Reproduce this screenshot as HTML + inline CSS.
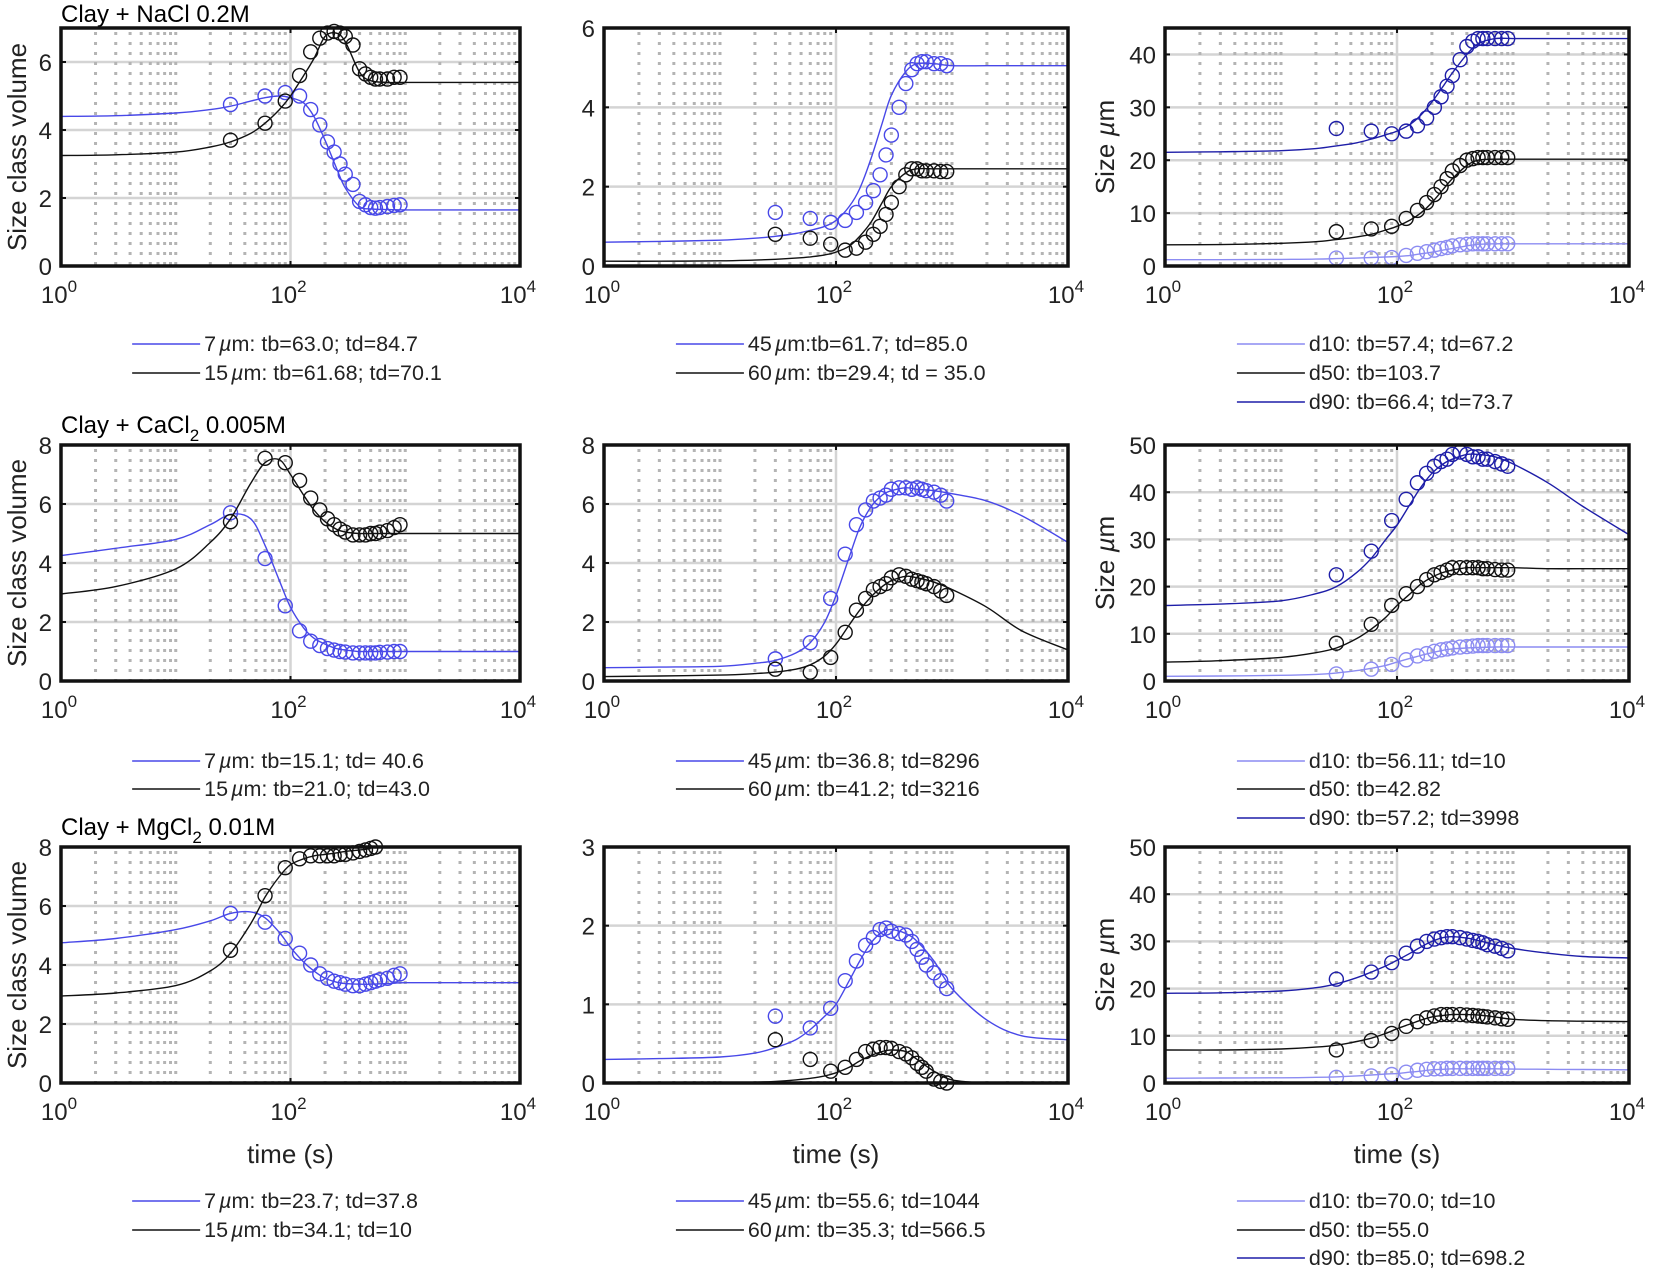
<!DOCTYPE html>
<html><head><meta charset="utf-8"><title>Size class fits</title>
<style>
html,body{margin:0;padding:0;background:#fff;}
svg{display:block;font-family:"Liberation Sans",Arial,sans-serif;}
</style></head>
<body>
<svg id="fig" width="1654" height="1274" viewBox="0 0 1654 1274" xmlns="http://www.w3.org/2000/svg">
<rect width="1654" height="1274" fill="#fff"/>
<text x="61" y="22" font-size="24">Clay + NaCl 0.2M</text>
<text x="61" y="433" font-size="24">Clay + CaCl<tspan dy="8" font-size="17">2</tspan><tspan dy="-8"> 0.005M</tspan></text>
<text x="61" y="835" font-size="24">Clay + MgCl<tspan dy="8" font-size="17">2</tspan><tspan dy="-8"> 0.01M</tspan></text>
<g id="plots"></g>
</svg>
<script>
// time grids (s)
const CT=[1,3,10,20,30,45,60,80,100,130,160,200,250,300,400,500,700,1000,2000,4000,10000];
const MT=[30,60,90,120,150,180,210,240,270,300,350,400,450,500,550,600,700,800,900];
// Panel 1 NaCl
const p1_7_fit=[4.4,4.42,4.5,4.6,4.7,4.85,4.95,5.0,4.95,4.8,4.4,3.7,2.9,2.3,1.75,1.68,1.66,1.65,1.65,1.65,1.65];
const p1_15_fit=[3.25,3.27,3.35,3.5,3.65,3.9,4.2,4.6,5.0,5.6,6.1,6.75,6.85,6.6,5.7,5.45,5.4,5.4,5.4,5.4,5.4];
const p1_7_obs=[4.75,5.0,5.1,5.0,4.6,4.15,3.65,3.35,3.0,2.7,2.4,1.9,1.8,1.72,1.7,1.72,1.75,1.78,1.8];
const p1_15_obs=[3.7,4.2,4.85,5.6,6.3,6.7,6.85,6.9,6.85,6.75,6.5,5.8,5.65,5.55,5.5,5.5,5.5,5.55,5.55];
// Panel 2
const p2_45_fit=[0.6,0.62,0.65,0.7,0.75,0.82,0.9,1.0,1.15,1.5,1.95,2.7,3.6,4.3,4.9,5.1,5.1,5.05,5.05,5.05,5.05];
const p2_60_fit=[0.12,0.12,0.13,0.15,0.17,0.2,0.23,0.28,0.35,0.5,0.75,1.1,1.6,2.0,2.35,2.45,2.45,2.45,2.45,2.45,2.45];
const p2_45_obs=[1.35,1.2,1.1,1.15,1.35,1.6,1.9,2.3,2.8,3.3,4.0,4.6,4.95,5.1,5.15,5.15,5.1,5.1,5.05];
const p2_60_obs=[0.8,0.7,0.55,0.4,0.45,0.6,0.8,1.0,1.3,1.6,2.0,2.3,2.45,2.45,2.4,2.4,2.4,2.38,2.38];
// Panel 3
const p3_d10_fit=[1.2,1.2,1.25,1.3,1.4,1.5,1.6,1.7,1.8,2.0,2.3,2.6,3.0,3.3,3.8,4.1,4.2,4.2,4.2,4.2,4.2];
const p3_d50_fit=[4,4.05,4.3,4.6,5,5.5,6,6.8,7.5,8.7,10,12,14.5,16.5,19,20,20.2,20.2,20.2,20.2,20.2];
const p3_d90_fit=[21.5,21.6,21.8,22.2,22.7,23.3,24,24.8,25.5,26.8,28.5,31,34,36.5,40,42,43,43,43,43,43];
const p3_d10_obs=[1.5,1.5,1.6,2,2.4,2.7,3.0,3.3,3.5,3.8,4.0,4.1,4.2,4.2,4.2,4.2,4.2,4.2,4.2];
const p3_d50_obs=[6.5,7,7.5,9,10.5,12,13.5,15,16.5,18,19,20,20.3,20.5,20.5,20.5,20.5,20.5,20.5];
const p3_d90_obs=[26,25.5,25,25.5,26.5,28,30,32,34,36,39,41.5,42.5,43,43,43,43,43,43];
// Panel 4 CaCl2
const p4_7_fit=[4.25,4.5,4.8,5.3,5.65,5.5,4.6,3.4,2.5,1.8,1.45,1.25,1.1,1.05,1.0,1.0,1.0,1.0,1.0,1.0,1.0];
const p4_15_fit=[2.95,3.2,3.8,4.7,5.5,6.7,7.4,7.5,7.0,6.3,5.8,5.4,5.15,5.05,5.0,5.0,5.0,5.0,5.0,5.0,5.0];
const p4_7_obs=[5.7,4.15,2.55,1.7,1.35,1.2,1.1,1.05,1.0,0.98,0.95,0.95,0.95,0.95,0.95,0.97,0.98,1.0,1.0];
const p4_15_obs=[5.4,7.55,7.4,6.8,6.2,5.8,5.5,5.3,5.15,5.05,4.95,4.95,4.95,5.0,5.0,5.05,5.1,5.2,5.3];
// Panel 5
const p5_45_fit=[0.45,0.47,0.5,0.6,0.7,0.95,1.3,2.0,2.9,4.2,5.2,5.9,6.3,6.45,6.55,6.5,6.45,6.35,6.1,5.6,4.7];
const p5_60_fit=[0.15,0.17,0.2,0.25,0.3,0.4,0.55,0.85,1.25,1.9,2.4,2.85,3.2,3.4,3.55,3.5,3.35,3.1,2.5,1.7,1.05];
const p5_45_obs=[0.75,1.3,2.8,4.3,5.3,5.8,6.1,6.2,6.3,6.5,6.55,6.55,6.5,6.55,6.5,6.45,6.4,6.3,6.1];
const p5_60_obs=[0.4,0.3,0.8,1.65,2.4,2.8,3.1,3.2,3.3,3.5,3.6,3.55,3.45,3.4,3.35,3.3,3.2,3.05,2.9];
// Panel 6
const p6_d10_fit=[1,1.05,1.2,1.4,1.7,2.2,2.7,3.3,4,4.8,5.4,6,6.5,6.8,7,7.1,7.2,7.2,7.2,7.2,7.2];
const p6_d50_fit=[4,4.3,5,6,7,9,11,13.5,16,18.5,20.5,22,23,23.5,24,24,24,24,23.8,23.8,23.8];
const p6_d90_fit=[16,16.3,17,18.5,20,23,26,30,33,37.5,41,44,46,47,48,48,47.5,46,42,37,31];
const p6_d10_obs=[1.5,2.5,3.5,4.5,5.3,5.8,6.3,6.6,6.8,7,7.2,7.3,7.4,7.5,7.5,7.5,7.5,7.5,7.5];
const p6_d50_obs=[8,12,16,18.5,20,21.5,22.5,23,23.5,24,24,24,24,24,23.8,23.8,23.6,23.5,23.5];
const p6_d90_obs=[22.5,27.5,34,38.5,42,44,45.5,46.5,47,48,48.5,48,47.5,47.5,47,47,46.5,46,45.5];
// Panel 7 MgCl2
const p7_7_fit=[4.75,4.9,5.2,5.5,5.75,5.8,5.6,5.1,4.6,4.1,3.8,3.55,3.42,3.37,3.35,3.35,3.37,3.4,3.4,3.4,3.4];
const p7_15_fit=[2.95,3.05,3.3,3.8,4.4,5.4,6.3,7.0,7.4,7.6,7.7,7.75,7.8,7.85,7.9,7.95,null,null,null,null,null];
const p7_7_obs=[5.75,5.45,4.9,4.4,4.0,3.7,3.55,3.45,3.4,3.35,3.3,3.3,3.35,3.4,3.45,3.5,3.55,3.65,3.7];
const p7_15_obs=[4.5,6.35,7.3,7.6,7.7,7.7,7.7,7.7,7.75,7.75,7.8,7.85,7.9,7.95,8.0,null,null,null,null];
// Panel 8
const p8_45_fit=[0.3,0.31,0.33,0.38,0.45,0.55,0.68,0.85,1.0,1.3,1.55,1.78,1.92,1.95,1.9,1.8,1.55,1.2,0.8,0.6,0.55];
const p8_60_fit=[0,0,0.005,0.01,0.02,0.04,0.06,0.09,0.13,0.2,0.28,0.35,0.4,0.42,0.4,0.3,0.15,0.04,0.0,0.0,0.0];
const p8_45_obs=[0.85,0.7,0.95,1.3,1.55,1.75,1.85,1.95,1.97,1.93,1.9,1.88,1.8,1.7,1.6,1.5,1.4,1.3,1.2];
const p8_60_obs=[0.55,0.3,0.15,0.2,0.3,0.4,0.43,0.45,0.45,0.44,0.4,0.37,0.32,0.25,0.2,0.15,0.05,0.02,0.0];
// Panel 9
const p9_d10_fit=[1,1.05,1.1,1.2,1.3,1.5,1.7,1.9,2,2.3,2.5,2.8,2.9,3,3,3,3,2.95,2.9,2.85,2.8];
const p9_d50_fit=[7,7,7.2,7.6,8,8.8,9.5,10.5,11.5,12.5,13.3,14,14.3,14.5,14.5,14.4,14,13.5,13.2,13.1,13];
const p9_d90_fit=[19,19.1,19.5,20.2,21,22.3,23.5,24.8,26,27.5,28.8,30,30.8,31,30.7,30.2,29.3,28.5,27.5,26.8,26.5];
const p9_d10_obs=[1.2,1.5,1.8,2.3,2.7,2.9,3,3,3.1,3.1,3.1,3.1,3.1,3.1,3.1,3.1,3.1,3.1,3.1];
const p9_d50_obs=[7,9,10.5,12,13,13.8,14.2,14.5,14.5,14.5,14.5,14.4,14.3,14.2,14.1,14,13.8,13.6,13.5];
const p9_d90_obs=[22,23.5,25.5,27.5,29,30,30.5,30.8,31,31,30.8,30.5,30.2,30,29.7,29.3,29,28.5,28];
// legend labels
const leg1=[["7","µ","m: tb=63.0; td=84.7"],["15","µ","m: tb=61.68; td=70.1"]];
const leg2=[["45","µ","m:tb=61.7; td=85.0"],["60","µ","m: tb=29.4; td = 35.0"]];
const leg3=[["d10: tb=57.4; td=67.2"],["d50: tb=103.7"],["d90: tb=66.4; td=73.7"]];
const leg4=[["7","µ","m: tb=15.1; td= 40.6"],["15","µ","m: tb=21.0; td=43.0"]];
const leg5=[["45","µ","m: tb=36.8; td=8296"],["60","µ","m: tb=41.2; td=3216"]];
const leg6=[["d10: tb=56.11; td=10"],["d50: tb=42.82"],["d90: tb=57.2; td=3998"]];
const leg7=[["7","µ","m: tb=23.7; td=37.8"],["15","µ","m: tb=34.1; td=10"]];
const leg8=[["45","µ","m: tb=55.6; td=1044"],["60","µ","m: tb=35.3; td=566.5"]];
const leg9=[["d10: tb=70.0; td=10"],["d50: tb=55.0"],["d90: tb=85.0; td=698.2"]];

const BLUE="#4848e8", LBLUE="#8c8cf2", DBLUE="#1e1ea8", BLK="#111";
const COLS=[{x:61,w:459},{x:604,w:464},{x:1165,w:464}];
const ROWS=[{y:28,h:238},{y:445,h:236},{y:847,h:236}];
const LEGY=[[351,380,409],[768,796,825],[1208,1237,1265]];
const panels=[
 {r:0,c:0,ymax:7,yt:[0,2,4,6],yl:"Size class volume",leg:leg1,ser:[[p1_7_fit,p1_7_obs,BLUE],[p1_15_fit,p1_15_obs,BLK]]},
 {r:0,c:1,ymax:6,yt:[0,2,4,6],leg:leg2,ser:[[p2_45_fit,p2_45_obs,BLUE],[p2_60_fit,p2_60_obs,BLK]]},
 {r:0,c:2,ymax:45,yt:[0,10,20,30,40],yl:"Size µm",leg:leg3,ser:[[p3_d10_fit,p3_d10_obs,LBLUE],[p3_d50_fit,p3_d50_obs,BLK],[p3_d90_fit,p3_d90_obs,DBLUE]]},
 {r:1,c:0,ymax:8,yt:[0,2,4,6,8],yl:"Size class volume",leg:leg4,ser:[[p4_7_fit,p4_7_obs,BLUE],[p4_15_fit,p4_15_obs,BLK]]},
 {r:1,c:1,ymax:8,yt:[0,2,4,6,8],leg:leg5,ser:[[p5_45_fit,p5_45_obs,BLUE],[p5_60_fit,p5_60_obs,BLK]]},
 {r:1,c:2,ymax:50,yt:[0,10,20,30,40,50],yl:"Size µm",leg:leg6,ser:[[p6_d10_fit,p6_d10_obs,LBLUE],[p6_d50_fit,p6_d50_obs,BLK],[p6_d90_fit,p6_d90_obs,DBLUE]]},
 {r:2,c:0,ymax:8,yt:[0,2,4,6,8],yl:"Size class volume",xl:true,leg:leg7,ser:[[p7_7_fit,p7_7_obs,BLUE],[p7_15_fit,p7_15_obs,BLK]]},
 {r:2,c:1,ymax:3,yt:[0,1,2,3],xl:true,leg:leg8,ser:[[p8_45_fit,p8_45_obs,BLUE],[p8_60_fit,p8_60_obs,BLK]]},
 {r:2,c:2,ymax:50,yt:[0,10,20,30,40,50],yl:"Size µm",xl:true,leg:leg9,ser:[[p9_d10_fit,p9_d10_obs,LBLUE],[p9_d50_fit,p9_d50_obs,BLK],[p9_d90_fit,p9_d90_obs,DBLUE]]}
];
const NS="http://www.w3.org/2000/svg";
const root=document.getElementById("plots");
function mk(tag,attrs,parent){const e=document.createElementNS(NS,tag);for(const k in attrs)e.setAttribute(k,attrs[k]);(parent||root).appendChild(e);return e;}
function smooth(pts){
 if(pts.length<2)return "";
 let d="M"+pts[0][0].toFixed(1)+","+pts[0][1].toFixed(1);
 for(let i=0;i<pts.length-1;i++){
  const p0=pts[Math.max(0,i-1)],p1=pts[i],p2=pts[i+1],p3=pts[Math.min(pts.length-1,i+2)];
  const c1x=p1[0]+(p2[0]-p0[0])/6,c1y=p1[1]+(p2[1]-p0[1])/6;
  const c2x=p2[0]-(p3[0]-p1[0])/6,c2y=p2[1]-(p3[1]-p1[1])/6;
  d+=" C"+c1x.toFixed(1)+","+c1y.toFixed(1)+" "+c2x.toFixed(1)+","+c2y.toFixed(1)+" "+p2[0].toFixed(1)+","+p2[1].toFixed(1);
 }
 return d;
}
panels.forEach((p,pi)=>{
 const X0=COLS[p.c].x,W=COLS[p.c].w,Y0=ROWS[p.r].y,H=ROWS[p.r].h;
 const xs=t=>X0+Math.log10(t)/4*W;
 const ys=v=>Y0+H-v/p.ymax*H;
 const g=mk("g",{});
 
 
 const cid="clip"+pi;
 const cp=mk("clipPath",{id:cid},g);mk("rect",{x:X0,y:Y0,width:W,height:H},cp);
 p.yt.forEach(v=>{if(v>0&&v<p.ymax){const l=mk("line",{x1:X0,x2:X0+W,y1:ys(v),y2:ys(v),stroke:"#d4d4d4","stroke-width":2.5},g);}});
 for(let d=0;d<4;d++){for(let k=1;k<10;k++){
  const t=k*Math.pow(10,d);const x=xs(t);
  if(d===2&&k===1){const l=mk("line",{x1:x,x2:x,y1:Y0,y2:Y0+H,stroke:"#d4d4d4","stroke-width":2.5},g);}
  else if(!(d===0&&k===1)){const l=mk("line",{x1:x,x2:x,y1:Y0+4,y2:Y0+H,stroke:"#b4b4b4","stroke-width":3,"stroke-dasharray":"3 7"},g);}
 }}
 p.ser.forEach((s,si)=>{
  const pts=[];CT.forEach((t,i)=>{if(s[0][i]!==null)pts.push([xs(t),ys(s[0][i])]);});
  const path=mk("path",{d:smooth(pts),fill:"none",stroke:s[2],"stroke-width":1.4,"clip-path":"url(#"+cid+")"},g);
  
  
  MT.forEach((t,i)=>{const v=s[1][i];if(v===null)return;
   const c=mk("circle",{cx:xs(t),cy:ys(v),r:7,fill:"none",stroke:s[2],"stroke-width":1.4},g);
   
   
  });
 });
 const fr=mk("rect",{x:X0,y:Y0,width:W,height:H,fill:"none",stroke:"#111","stroke-width":3.5},g);
 
 [0,2,4].forEach(d=>{const x=xs(Math.pow(10,d));
  mk("line",{x1:x,x2:x,y1:Y0+H,y2:Y0+H-5,stroke:"#111","stroke-width":2},g);
  mk("line",{x1:x,x2:x,y1:Y0,y2:Y0+5,stroke:"#111","stroke-width":2},g);
  const tx=mk("text",{x:x-2,y:Y0+H+37,"font-size":24,"text-anchor":"middle",fill:"#222"},g);
  
  tx.textContent="10";const sp=mk("tspan",{dy:-11,"font-size":17},tx);sp.textContent=String(d);
 });
 p.yt.forEach(v=>{const y=ys(v);
  mk("line",{x1:X0,x2:X0+5,y1:y,y2:y,stroke:"#111","stroke-width":2},g);
  mk("line",{x1:X0+W,x2:X0+W-5,y1:y,y2:y,stroke:"#111","stroke-width":2},g);
  const tx=mk("text",{x:X0-9,y:y+9,"font-size":24,"text-anchor":"end",fill:"#222"},g);
  
  tx.textContent=String(v);
 });
 if(p.yl){const cx=p.c===0?26:1114;const cy=Y0+H/2;
  const tx=mk("text",{x:cx,y:cy,"font-size":26,"text-anchor":"middle",fill:"#222",transform:"rotate(-90 "+cx+" "+cy+")"},g);
  
  if(p.c===0)tx.textContent=p.yl;else{tx.textContent="Size ";const it=mk("tspan",{"font-style":"italic"},tx);it.textContent="µ";const m=mk("tspan",{},tx);m.textContent="m";}
 }
 if(p.xl){const tx=mk("text",{x:X0+W/2,y:Y0+H+80,"font-size":26,"text-anchor":"middle",fill:"#222"},g);
  tx.textContent="time (s)";}
 const lx=X0+W*0.155, tx0=lx+72;
 p.leg.forEach((e,li)=>{const y=LEGY[p.r][li];
  const col=p.ser[li][2];
  const l=mk("line",{x1:lx,x2:lx+68,y1:y-7,y2:y-7,stroke:col,"stroke-width":1.4},g);
  
  const t=mk("text",{x:tx0,y:y,"font-size":21.5,fill:"#222"},g);
  
  if(e.length===1)t.textContent=e[0];
  else{t.textContent=e[0];const it=mk("tspan",{"font-style":"italic",dx:3},t);it.textContent=e[1];const r=mk("tspan",{},t);r.textContent=e[2];}
 });
});
</script>
</body></html>
